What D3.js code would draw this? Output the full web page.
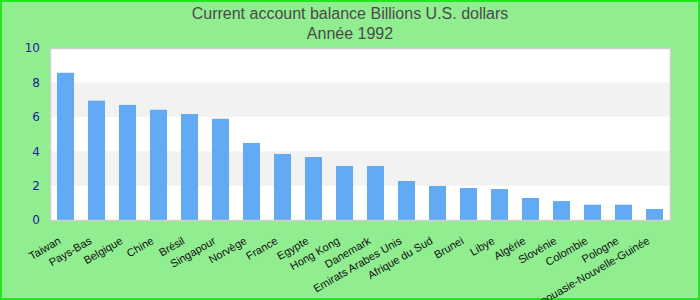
<!DOCTYPE html>
<html>
<head>
<meta charset="utf-8">
<script src="https://cdn.jsdelivr.net/npm/d3@7"></script>
<style>
  body { margin: 0; }
  #chart { width: 700px; height: 300px; }
</style>
</head>
<body>
<div id="chart"></div>
<script>
// data
var categories = ["Taiwan", "Pays-Bas", "Belgique", "Chine", "Brésil", "Singapour", "Norvège",
  "France", "Egypte", "Hong Kong", "Danemark", "Emirats Arabes Unis", "Afrique du Sud",
  "Brunei", "Libye", "Algérie", "Slovénie", "Colombie", "Pologne", "Papouasie-Nouvelle-Guinée"];
var values = [8.56, 6.94, 6.69, 6.41, 6.16, 5.89, 4.48, 3.84, 3.66, 3.14, 3.14, 2.27, 1.98,
  1.86, 1.80, 1.28, 1.10, 0.89, 0.89, 0.64];
var yTicks = [0, 2, 4, 6, 8, 10];
var titleLines = ["Current account balance Billions U.S. dollars", "Année 1992"];

var W = 700, H = 300;
var margin = {top: 48, right: 30, bottom: 80, left: 50};
var width = W - margin.left - margin.right,
    height = H - margin.top - margin.bottom;

var svg = d3.select("#chart").append("svg")
    .attr("width", W)
    .attr("height", H)
    .style("font-family", "'Liberation Sans', Arial, sans-serif");

// background + outer border
svg.append("rect")
    .attr("x", 1).attr("y", 1)
    .attr("width", W - 2).attr("height", H - 2)
    .attr("fill", "#90ee90")
    .attr("stroke", "#22e622")
    .attr("stroke-width", 2);

// title
svg.append("g").selectAll("text")
    .data(titleLines)
    .enter().append("text")
    .attr("x", W / 2)
    .attr("y", function(d, i) { return 19 + i * 20; })
    .attr("text-anchor", "middle")
    .attr("font-size", 16)
    .attr("fill", "#4a4a4a")
    .text(function(d) { return d; });

var g = svg.append("g")
    .attr("transform", "translate(" + margin.left + "," + margin.top + ")");

var x = d3.scaleBand()
    .domain(categories)
    .range([0, width])
    .paddingInner(0.45)
    .paddingOuter(0.225);

var y = d3.scaleLinear()
    .domain([0, 10])
    .range([height, 0]);

// plot background with alternating bands
g.append("rect")
    .attr("width", width).attr("height", height)
    .attr("fill", "#fff");

var bands = [];
for (var i = 0; i < yTicks.length - 1; i++) bands.push([yTicks[i], yTicks[i + 1], i]);
g.selectAll(".band")
    .data(bands)
    .enter().append("rect")
    .attr("class", "band")
    .attr("x", 0)
    .attr("width", width)
    .attr("y", function(d) { return y(d[1]); })
    .attr("height", function(d) { return y(d[0]) - y(d[1]); })
    .attr("fill", function(d) { return d[2] % 2 ? "#f2f2f2" : "#fff"; });

// bars
g.selectAll(".bar")
    .data(values)
    .enter().append("rect")
    .attr("class", "bar")
    .attr("x", function(d, i) { return x(categories[i]); })
    .attr("width", x.bandwidth())
    .attr("y", function(d) { return y(d); })
    .attr("height", function(d) { return height - y(d); })
    .attr("fill", "#62aaf4");

// plot border
g.append("rect")
    .attr("x", 0.5).attr("y", 0.5)
    .attr("width", width).attr("height", height)
    .attr("fill", "none")
    .attr("stroke", "#cfcfcf")
    .attr("stroke-width", 1.5);

// y axis
var yAxis = g.append("g")
    .call(d3.axisLeft(y).tickValues(yTicks).tickSize(0).tickPadding(10));
yAxis.select(".domain").remove();
yAxis.selectAll("text")
    .attr("font-size", 12)
    .attr("font-family", "'DejaVu Sans', Verdana, sans-serif")
    .attr("fill", "#1c1c9c");

// x axis
var xAxis = g.append("g")
    .attr("transform", "translate(0," + height + ")")
    .call(d3.axisBottom(x).tickSize(0).tickPadding(0));
xAxis.select(".domain").remove();
xAxis.selectAll("text")
    .attr("font-size", 11)
    .attr("fill", "#111")
    .attr("text-anchor", "end")
    .attr("y", 0)
    .attr("dy", 0)
    .attr("transform", "translate(-4,23) rotate(-30)");
</script>
</body>
</html>
